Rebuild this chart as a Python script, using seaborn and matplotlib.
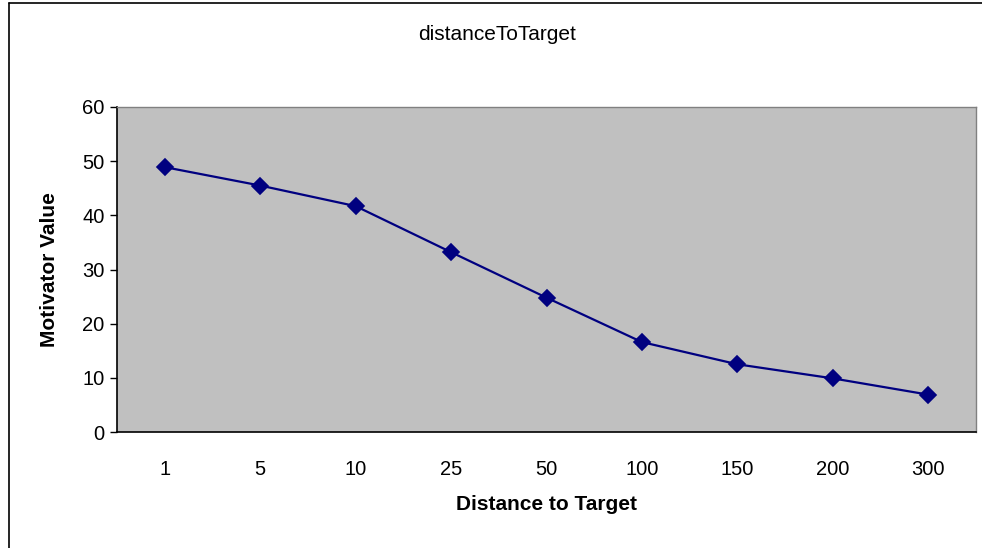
import numpy as np
import pandas as pd
import seaborn as sns
import matplotlib.pyplot as plt
from matplotlib.lines import Line2D

distance_labels = ['1', '5', '10', '25', '50', '100', '150', '200', '300']
motivator_values = [48.9, 45.5, 41.7, 33.2, 24.8, 16.6, 12.5, 9.9, 6.9]

sns.set_theme(style='white')
plt.rcParams['font.family'] = ['Liberation Sans', 'DejaVu Sans']
plt.rcParams['text.color'] = 'black'
plt.rcParams['axes.labelcolor'] = 'black'

df = pd.DataFrame({'distance': distance_labels, 'value': motivator_values})

fig = plt.figure(figsize=(9.82, 5.48), dpi=100)
# plot area: x 117..976 px, y 107..432 px
ax = fig.add_axes([117/982, 1 - 432/548, (976 - 117)/982, (432 - 107)/548])
ax.set_facecolor('#C0C0C0')

sns.pointplot(data=df, x='distance', y='value', order=distance_labels,
              color='#000080', markers='D', markersize=8.5, linewidth=1.6,
              ax=ax)

n = len(distance_labels)
ax.set_xlim(-0.5, n - 0.5)
ax.set_ylim(0, 60)
ax.set_yticks(range(0, 61, 10))
ax.set_xticks(np.arange(-0.5, n, 1.0), minor=True)
ax.tick_params(axis='x', which='major', length=0, pad=20, labelsize=14.5, labelcolor='black')
ax.tick_params(axis='x', which='minor', length=5, width=1, color='black', direction='out')
ax.tick_params(axis='y', length=5, width=1, color='black', direction='out',
               labelsize=14.5, pad=4, left=True, labelcolor='black')

for side in ['left', 'bottom']:
    ax.spines[side].set_color('black')
    ax.spines[side].set_linewidth(1.2)
for side in ['top', 'right']:
    ax.spines[side].set_color('#808080')
    ax.spines[side].set_linewidth(1.0)

ax.set_xlabel('Distance to Target', fontsize=15, fontweight='bold')
ax.set_ylabel('Motivator Value', fontsize=15, fontweight='bold')
ax.xaxis.set_label_coords(0.5, (432 - 505) / 325)
ax.yaxis.set_label_coords((50 - 117) / 859, 0.5)
ax.xaxis.label.set_va('center')
ax.yaxis.label.set_va('center')
fig.text(497/982, 1 - 34/548, 'distanceToTarget', ha='center', va='center',
         fontsize=15, color='black')

# chart-area border (left and top visible)
fig.add_artist(Line2D([9/982, 9/982], [0, 1 - 3/548], color='black', lw=1.2,
                      transform=fig.transFigure))
fig.add_artist(Line2D([9/982, 1], [1 - 3/548, 1 - 3/548], color='black', lw=1.2,
                      transform=fig.transFigure))

fig.savefig('out.png', dpi=100)
